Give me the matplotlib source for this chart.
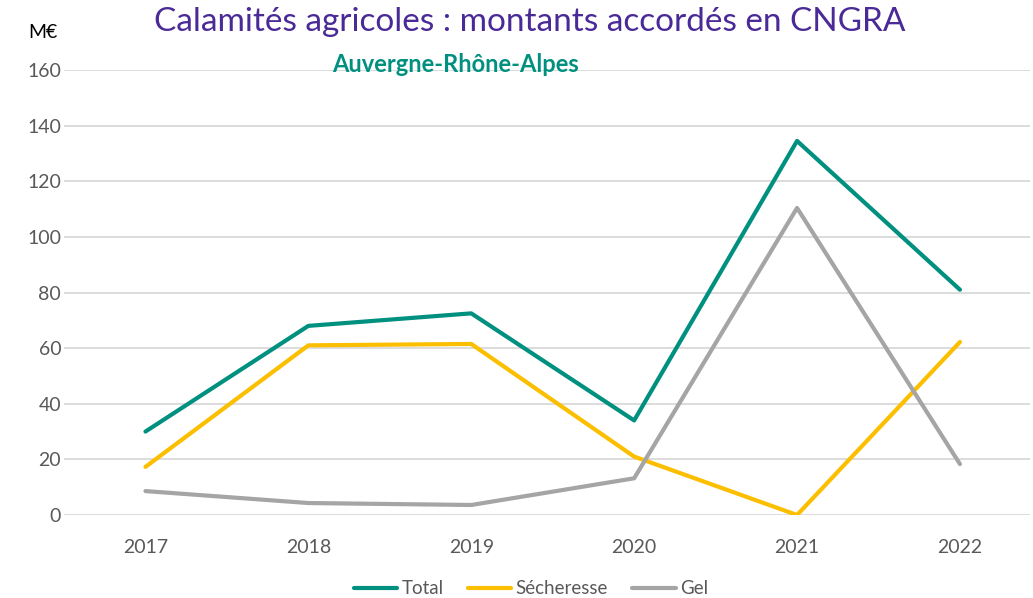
import matplotlib
matplotlib.use("Agg")
import matplotlib.pyplot as plt

years = ["2017", "2018", "2019", "2020", "2021", "2022"]
total = [30, 68, 72.5, 34, 134.5, 81]
secheresse = [17.3, 61, 61.5, 21, 0, 62.2]
gel = [8.6, 4.3, 3.6, 13.2, 110.4, 18.3]
yticks = [0, 20, 40, 60, 80, 100, 120, 140, 160]

plt.rcParams['font.family'] = ['Lato', 'DejaVu Sans']

fig = plt.figure(figsize=(10.33, 5.98), dpi=100)
ax = fig.add_axes([64/1033, 83/598, (1030-64)/1033, (515-70)/598])

x = list(range(len(years)))
ax.plot(x, total, color="#00907f", lw=3.0, label="Total", solid_capstyle="round", zorder=3)
ax.plot(x, secheresse, color="#fcbf00", lw=3.0, label="Sécheresse", solid_capstyle="round", zorder=3)
ax.plot(x, gel, color="#a5a5a5", lw=3.0, label="Gel", solid_capstyle="round", zorder=3)

ax.set_xlim(-0.5, 5.43)
ax.set_ylim(0, 160)
ax.set_yticks(yticks)
ax.set_xticks(x)
ax.set_xticklabels(years)
ax.grid(axis="y", color="#d9d9d9", lw=1.3)
ax.set_axisbelow(True)
for s in ax.spines.values():
    s.set_visible(False)
ax.tick_params(axis="both", length=0, labelsize=14, colors="#595959")
ax.tick_params(axis="x", pad=17)
ax.tick_params(axis="y", pad=2)

fig.text(530/1033, 1 - 22/598, "Calamités agricoles : montants accordés en CNGRA",
         ha="center", va="center", fontsize=24, color="#4a2a97")
fig.text(455/1033, 1 - 64/598, "Auvergne-Rhône-Alpes", ha="center", va="center",
         fontsize=17, fontweight="bold", color="#00907f")
fig.text(43/1033, 1 - 32/598, "M€", ha="center", va="center", fontsize=14, color="black")

leg = fig.legend(loc="center", bbox_to_anchor=(531/1033, 1 - 589/598), ncol=3, frameon=False,
                 fontsize=13.5, handlelength=2.3, columnspacing=1.3, handletextpad=0.25)
for t in leg.get_texts():
    t.set_color("#595959")

fig.savefig("out.png", dpi=100)
